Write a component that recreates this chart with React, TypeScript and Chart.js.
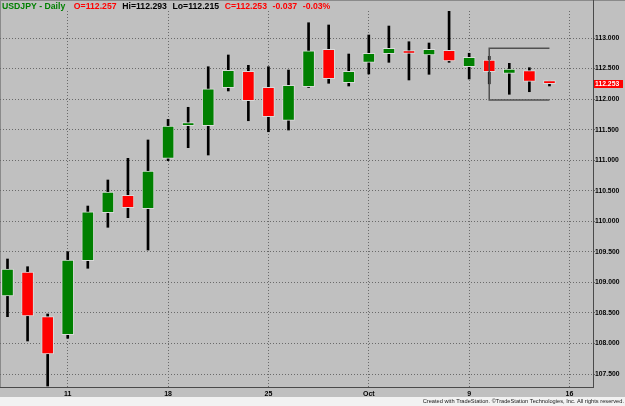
import React, { useEffect, useRef } from 'react';
import { Chart, registerables } from 'chart.js';

Chart.register(...registerables);

// ---- data ----
const dates = [
  'Sep 6', 'Sep 7', 'Sep 8', 'Sep 11', 'Sep 12', 'Sep 13', 'Sep 14', 'Sep 15',
  'Sep 18', 'Sep 19', 'Sep 20', 'Sep 21', 'Sep 22', 'Sep 25', 'Sep 26', 'Sep 27',
  'Sep 28', 'Sep 29', 'Oct 2', 'Oct 3', 'Oct 4', 'Oct 5', 'Oct 6', 'Oct 9',
  'Oct 10', 'Oct 11', 'Oct 12', 'Oct 13',
];
const opens = [
  108.777, 109.170, 108.439, 108.144, 109.355, 110.141, 110.426, 110.206,
  111.031, 111.565, 111.565, 112.187, 112.455, 112.193, 111.653, 112.203,
  112.815, 112.268, 112.602, 112.743, 112.771, 112.722, 112.799, 112.530,
  112.640, 112.422, 112.465, 112.257,
];
const highs = [
  109.383, 109.257, 108.483, 109.502, 110.250, 110.676, 111.031, 111.331,
  111.668, 111.866, 112.530, 112.722, 112.553, 112.530, 112.476, 113.250,
  113.213, 112.738, 113.049, 113.196, 112.939, 112.918, 113.442, 112.750,
  112.700, 112.586, 112.514, 112.293,
];
const lows = [
  108.439, 108.041, 107.304, 108.085, 109.231, 109.902, 110.059, 109.530,
  110.992, 111.205, 111.085, 112.133, 111.646, 111.466, 111.494, 112.190,
  112.259, 112.214, 112.411, 112.602, 112.313, 112.406, 112.602, 112.329,
  112.250, 112.079, 112.121, 112.215,
];
const closes = [
  109.219, 108.450, 107.828, 109.367, 110.157, 110.480, 110.223, 110.823,
  111.560, 111.590, 112.170, 112.471, 111.974, 111.712, 112.226, 112.792,
  112.334, 112.455, 112.750, 112.831, 112.746, 112.815, 112.624, 112.684,
  112.448, 112.493, 112.290, 112.253,
];
const yTicks = [107.5, 108, 108.5, 109, 109.5, 110, 110.5, 111, 111.5, 112, 112.5, 113];
const xTickIndex = [3, 8, 13, 18, 23, 28];
const xTickLabels = ['11', '18', '25', 'Oct', '9', '16'];
const bracketX = [27, 24, 24, 27];
const bracketY = [112.831, 112.831, 111.985, 111.985];
const symbol = 'USDJPY - Daily';
const credit = 'Created with TradeStation. \u00A9TradeStation Technologies, Inc. All rights reserved.';

const GREEN = '#008000';
const RED = '#ff0000';
const BG = '#c0c0c0';
const FONT = '"Liberation Sans", Arial, sans-serif';

const decorPlugin = {
  id: 'decor',
  beforeDraw(chart: any) {
    const { ctx, width, height } = chart;
    const area = chart.chartArea;
    ctx.save();
    ctx.fillStyle = BG;
    ctx.fillRect(0, 0, width, height);
    ctx.fillStyle = '#f2f2f2';
    ctx.fillRect(0, 397, width, height - 397);
    ctx.strokeStyle = '#8a8a8a';
    ctx.lineWidth = 1;
    ctx.beginPath();
    ctx.moveTo(0.5, 0);
    ctx.lineTo(0.5, area.bottom);
    ctx.moveTo(0, 0.5);
    ctx.lineTo(width, 0.5);
    ctx.stroke();
    ctx.strokeStyle = '#4a4a4a';
    ctx.beginPath();
    ctx.moveTo(area.right + 0.5, 0);
    ctx.lineTo(area.right + 0.5, area.top);
    ctx.stroke();
    ctx.restore();
  },
  afterDraw(chart: any) {
    const { ctx } = chart;
    const yScale = chart.scales.y;
    const n = closes.length - 1;
    const last = closes[n];
    const prev = closes[n - 1];
    const chg = last - prev;
    const pct = (chg / prev) * 100;
    ctx.save();
    // header
    ctx.font = `bold 8.7px ${FONT}`;
    ctx.textBaseline = 'alphabetic';
    const items: [string, string][] = [
      [symbol, GREEN],
      [`O=${opens[n].toFixed(3)}`, RED],
      [`Hi=${highs[n].toFixed(3)}`, '#000000'],
      [`Lo=${lows[n].toFixed(3)}`, '#000000'],
      [`C=${last.toFixed(3)}`, RED],
      [`${chg.toFixed(3)}`, RED],
      [`${pct.toFixed(2)}%`, RED],
    ];
    let x = 2;
    items.forEach(([t, c], i) => {
      ctx.fillStyle = c;
      ctx.fillText(t, x, 9.4);
      x += ctx.measureText(t).width + (i === 0 ? 8.6 : 5.6);
    });
    // last price box
    const yc = yScale.getPixelForValue(last);
    ctx.fillStyle = RED;
    ctx.fillRect(594, Math.round(yc) - 4, 29, 8);
    ctx.fillStyle = '#ffffff';
    ctx.font = `bold 6.8px ${FONT}`;
    ctx.textBaseline = 'middle';
    ctx.fillText(last.toFixed(3), 595, Math.round(yc));
    // credit
    ctx.fillStyle = '#202020';
    ctx.font = `5.7px ${FONT}`;
    ctx.textBaseline = 'alphabetic';
    ctx.textAlign = 'right';
    ctx.fillText(credit, 624, 403);
    ctx.restore();
  },
};

export default function App() {
  const ref = useRef<HTMLCanvasElement | null>(null);
  useEffect(() => {
    document.body.style.margin = '0';
    if (!ref.current) return;
    const bodies = dates.map((_, i) => ({ x: i, y: [opens[i], closes[i]] }));
    const wicks = dates.map((_, i) => ({ x: i, y: [lows[i], highs[i]] }));
    const bodyColors = dates.map((_, i) => (closes[i] >= opens[i] ? GREEN : RED));
    const bracket = bracketX.map((bx, i) => ({ x: bx, y: bracketY[i] }));
    const chart = new Chart(ref.current, {
      type: 'bar',
      data: {
        datasets: [
          {
            type: 'line',
            data: bracket,
            borderColor: '#505050',
            borderWidth: 1.5,
            pointRadius: 0,
            fill: false,
            tension: 0,
            order: 0,
          } as any,
          {
            data: bodies,
            backgroundColor: bodyColors,
            borderColor: '#dadada',
            borderWidth: 1,
            borderSkipped: false,
            barThickness: 12,
            minBarLength: 3,
            grouped: false,
            order: 1,
          } as any,
          {
            data: wicks,
            backgroundColor: '#000000',
            borderWidth: 0,
            barThickness: 2,
            grouped: false,
            order: 2,
          } as any,
        ],
      },
      options: {
        animation: false,
        responsive: false,
        events: [],
        layout: { padding: { top: 11, left: 0, right: 0, bottom: 0 } },
        plugins: { legend: { display: false }, tooltip: { enabled: false } },
        scales: {
          x: {
            type: 'linear',
            position: 'bottom',
            min: -0.374,
            max: 29.17,
            offset: false,
            afterBuildTicks: (axis: any) => {
              axis.ticks = xTickIndex.map((v) => ({ value: v }));
            },
            afterFit: (scale: any) => {
              scale.height = 19;
            },
            grid: {
              offset: false,
              color: '#6a6a6a',
              lineWidth: 1,
              drawTicks: false,
            },
            border: { display: true, color: '#4a4a4a', width: 1, dash: [1, 2] },
            ticks: {
              autoSkip: false,
              maxRotation: 0,
              padding: 3,
              color: '#000000',
              font: { family: FONT, size: 7, weight: 'bold' },
              callback: (_v: any, i: number) => xTickLabels[i],
            },
          },
          y: {
            type: 'linear',
            position: 'right',
            min: 107.288,
            max: 113.442,
            afterBuildTicks: (axis: any) => {
              axis.ticks = yTicks.map((v) => ({ value: v }));
            },
            afterFit: (scale: any) => {
              scale.width = 32;
            },
            grid: {
              color: '#6a6a6a',
              lineWidth: 1,
              drawTicks: true,
              tickLength: 2,
            },
            border: { display: true, color: '#4a4a4a', width: 1, dash: [1, 2] },
            ticks: {
              padding: 0,
              color: '#000000',
              font: { family: FONT, size: 6.8, weight: 'bold' },
              callback: (v: any) => Number(v).toFixed(3),
            },
          },
        },
      },
      plugins: [decorPlugin],
    });
    return () => chart.destroy();
  }, []);
  return (
    <div style={{ width: 625, height: 406, position: 'relative' }}>
      <canvas ref={ref} width={625} height={406} style={{ display: 'block' }} />
    </div>
  );
}
